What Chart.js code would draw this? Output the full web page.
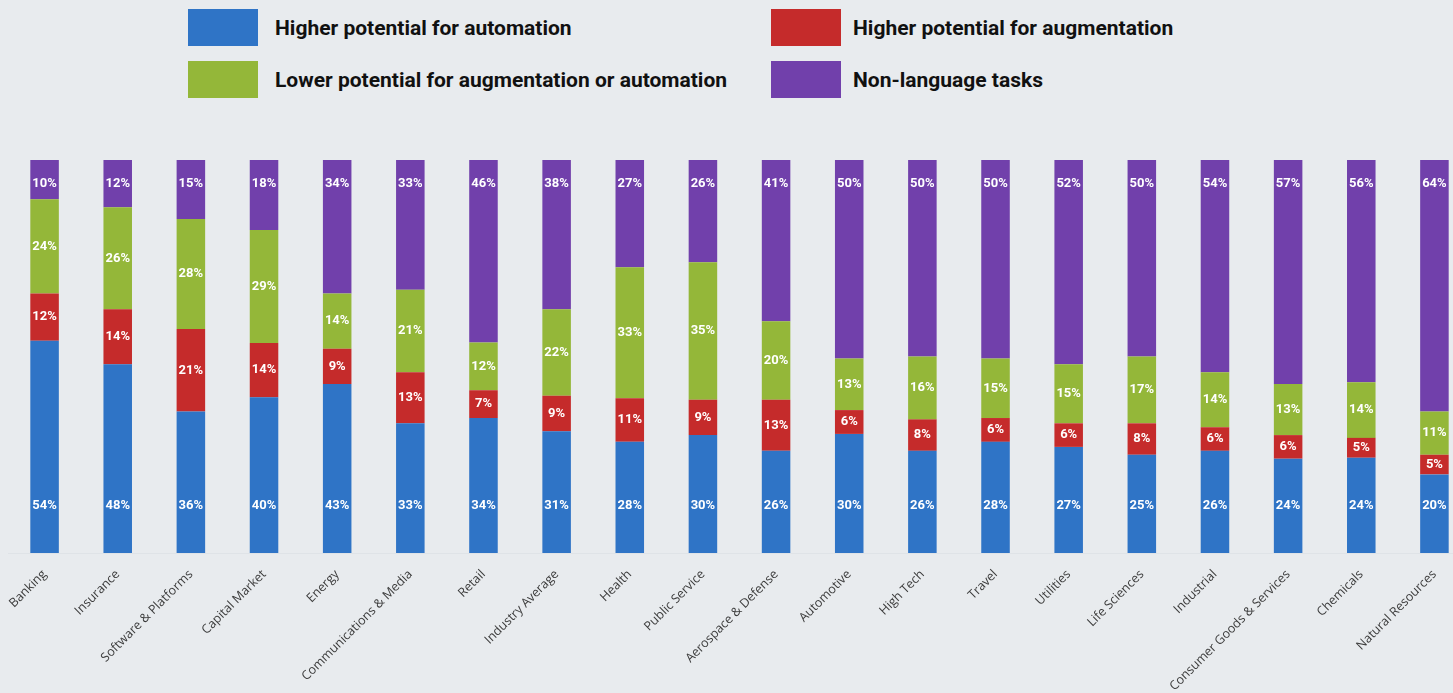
<!DOCTYPE html>
<html>
<head>
<meta charset="utf-8">
<script src="https://cdn.jsdelivr.net/npm/chart.js@4.4.1/dist/chart.umd.min.js"></script>
<style>
  html, body { margin: 0; padding: 0; }
  body {
    width: 1453px; height: 693px; overflow: hidden; position: relative;
    background: #e8ebee;
  }
  .item {
    position: absolute; display: flex; align-items: center; height: 37px;
    font-family: Roboto, "Noto Sans", sans-serif; font-weight: 700; font-size: 21px; color: #111;
    white-space: nowrap;
  }
  .box { width: 70px; height: 37px; }
  #wrap { position: absolute; left: 0; top: 0; }
</style>
</head>
<body>
<div id="legend"></div>
<div id="wrap"><canvas id="chart" width="1480" height="693"></canvas></div>
<script>
const industries = ['Banking', 'Insurance', 'Software & Platforms', 'Capital Market', 'Energy',
  'Communications & Media', 'Retail', 'Industry Average', 'Health', 'Public Service',
  'Aerospace & Defense', 'Automotive', 'High Tech', 'Travel', 'Utilities', 'Life Sciences',
  'Industrial', 'Consumer Goods & Services', 'Chemicals', 'Natural Resources'];

// 各業種の割合 (%)
const automation   = [54, 48, 36, 40, 43, 33, 34, 31, 28, 30, 26, 30, 26, 28, 27, 25, 26, 24, 24, 20];
const augmentation = [12, 14, 21, 14,  9, 13,  7,  9, 11,  9, 13,  6,  8,  6,  6,  8,  6,  6,  5,  5];
const lowerPotential = [24, 26, 28, 29, 14, 21, 12, 22, 33, 35, 20, 13, 16, 15, 15, 17, 14, 13, 14, 11];
const nonLanguage  = [10, 12, 15, 18, 34, 33, 46, 38, 27, 26, 41, 50, 50, 50, 52, 50, 54, 57, 56, 64];

const seriesNames = ['Higher potential for automation', 'Higher potential for augmentation',
  'Lower potential for augmentation or automation', 'Non-language tasks'];
const seriesColors = ['#2f74c6', '#c52b2b', '#94b739', '#7140ab'];

const allSeries = [automation, augmentation, lowerPotential, nonLanguage];

// 丸め誤差で合計が99/101になる棒があるので、100%積み上げとして描画する
const totals = industries.map((_, i) => allSeries.reduce((sum, s) => sum + s[i], 0));

const datasets = allSeries.map((values, i) => ({
  label: seriesNames[i],
  data: values.map((v, j) => v / totals[j] * 100),
  shown: values,
  backgroundColor: seriesColors[i],
  borderWidth: 0,
  barPercentage: 0.39,
  categoryPercentage: 1
}));

// 凡例はHTMLで2x2に配置
const legendEl = document.getElementById('legend');
const legendPos = [
  { left: 188, top: 9, gap: 17 },
  { left: 771, top: 9, gap: 12 },
  { left: 188, top: 61, gap: 17 },
  { left: 771, top: 61, gap: 12 }
];
datasets.forEach((ds, i) => {
  const item = document.createElement('div');
  item.className = 'item';
  item.style.left = legendPos[i].left + 'px';
  item.style.top = legendPos[i].top + 'px';
  item.innerHTML = `<span class="box" style="background:${ds.backgroundColor};margin-right:${legendPos[i].gap}px"></span><span>${ds.label}</span>`;
  legendEl.appendChild(item);
});

// 棒の中に白いパーセント表示を描くプラグイン
const valueLabels = {
  id: 'valueLabels',
  afterDatasetsDraw(chart) {
    const ctx = chart.ctx;
    ctx.save();
    ctx.fillStyle = '#ffffff';
    ctx.font = 'bold 13px Roboto, sans-serif';
    ctx.textAlign = 'center';
    ctx.textBaseline = 'middle';
    chart.data.datasets.forEach((ds, di) => {
      const meta = chart.getDatasetMeta(di);
      meta.data.forEach((bar, i) => {
        let y;
        if (di === 0) y = bar.base - 47;
        else if (di === 3) y = bar.y + 24;
        else y = (bar.y + bar.base) / 2;
        ctx.fillText(ds.shown[i] + '%', bar.x, y);
      });
    });
    ctx.restore();
  }
};

new Chart(document.getElementById('chart'), {
  type: 'bar',
  data: { labels: industries, datasets: datasets },
  options: {
    responsive: false,
    animation: false,
    layout: { padding: { top: 160, left: 8, right: 9, bottom: 0 } },
    plugins: { legend: { display: false }, tooltip: { enabled: false } },
    scales: {
      x: {
        stacked: true,
        grid: { display: false },
        border: { display: true, color: '#dfe3e7' },
        ticks: {
          minRotation: 45, maxRotation: 45, autoSkip: false, padding: 6,
          color: '#3c3c3c',
          font: { family: '"Open Sans", sans-serif', size: 12.5 }
        },
        afterFit(scale) { scale.height = 140; }
      },
      y: { stacked: true, display: false, min: 0, max: 100 }
    }
  },
  plugins: [valueLabels]
});
</script>
</body>
</html>
